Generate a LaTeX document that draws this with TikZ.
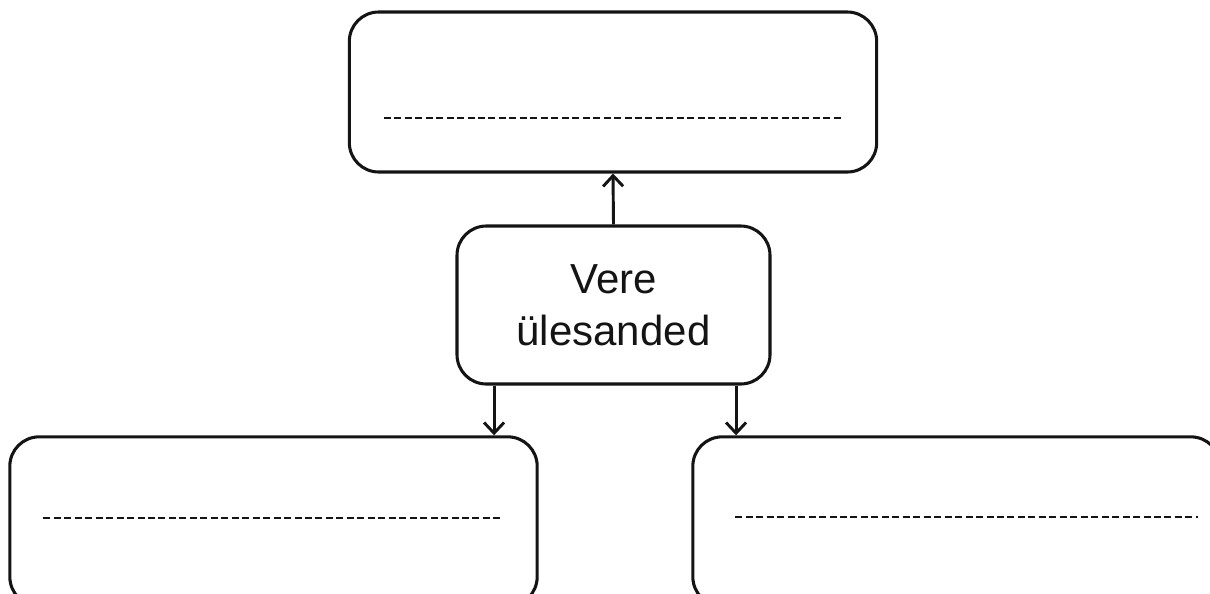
\documentclass[tikz,border=0pt]{standalone}
\usepackage{fontspec}
\setmainfont{Liberation Sans}
\usetikzlibrary{arrows.meta,positioning}
\tikzset{
    basic/.style  = {draw, rectangle, line width=2.3pt, rounded corners=22pt, inner sep=0pt},
    box/.style    = {basic, minimum width=395.5pt, minimum height=120pt},
    lowbox/.style = {basic, minimum width=395.5pt, minimum height=127pt},
    mainbox/.style = {basic, minimum width=234.75pt, minimum height=118.5pt, align=center,
                      font=\fontsize{31.5}{39}\selectfont},
    dotline/.style = {line width=1.9pt, dash pattern=on 5.25pt off 2.6pt},
    arr/.style    = {-{Straight Barb[length=8pt,width=15pt]}, line width=2.2pt}
}
\begin{document}
\begin{tikzpicture}[x=0.75pt,y=-0.75pt,color={black!92}]
	\useasboundingbox (0,0) rectangle (1210,593);
	\node[box] (topbox) at (613,92) {};
	\node[mainbox] (vere) at (613.5,305) {Vere\\ülesanded};
	\node[lowbox] (leftbox) at (273.5,521.5) {};
	\node[lowbox] (rightbox) at (956.5,521.5) {};
	
	% punktiirjooned
	\draw[dotline] ([shift={(36,26)}]topbox.west) -- ([shift={(-34,26)}]topbox.east);
	\draw[dotline] ([shift={(35,-3.5)}]leftbox.west) -- ([shift={(-36,-3.5)}]leftbox.east);
	\draw[dotline] ([shift={(44,-4.5)}]rightbox.west) -- ([shift={(-24,-4.5)}]rightbox.east);
	
	% nooled
	\draw[arr] (vere.north) -- (topbox.south);
	\draw[arr] ([xshift=-89.6pt]vere.south) -- ([xshift=-89.6pt]vere.south |- leftbox.north);
	\draw[arr] ([xshift=91.9pt]vere.south) -- ([xshift=91.9pt]vere.south |- rightbox.north);
\end{tikzpicture}
\end{document}
